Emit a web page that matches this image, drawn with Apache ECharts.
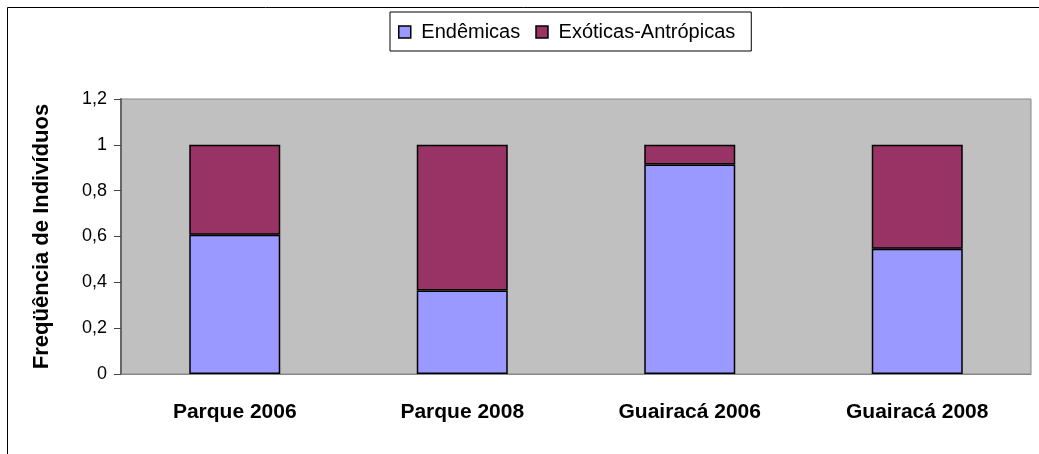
<!DOCTYPE html>
<html>
<head>
<meta charset="utf-8">
<script src="https://cdn.jsdelivr.net/npm/echarts@6/dist/echarts.min.js"></script>
<style>
  html, body { margin: 0; padding: 0; background: #fff; }
  #chart { width: 1039px; height: 454px; }
</style>
</head>
<body>
<div id="chart"></div>
<script>
// data
const categories = ['Parque 2006', 'Parque 2008', 'Guairacá 2006', 'Guairacá 2008'];
const endemicas = [0.608, 0.364, 0.914, 0.547];
const exoticas = [0.392, 0.636, 0.086, 0.453];
const seriesNames = ['Endêmicas', 'Exóticas-Antrópicas'];

const FONT = '"Liberation Sans", Arial, sans-serif';

const chart = echarts.init(document.getElementById('chart'));

function barSeries(name, data, color) {
  return {
    name: name,
    type: 'bar',
    stack: 'total',
    barWidth: 91,
    data: data,
    itemStyle: { color: color, borderColor: '#000', borderWidth: 1.5 },
    emphasis: { disabled: true }
  };
}

const option = {
  animation: false,
  backgroundColor: '#fff',
  graphic: [{
    type: 'rect',
    shape: { x: 7.5, y: 7.5, width: 1200, height: 600 },
    style: { fill: 'none', stroke: '#000', lineWidth: 1 },
    z: 0
  }],
  legend: {
    data: seriesNames,
    top: 12,
    left: 390,
    padding: [10, 16, 9, 8],
    borderColor: '#000',
    borderWidth: 1,
    backgroundColor: '#fff',
    itemWidth: 12,
    itemHeight: 12,
    itemGap: 15,
    icon: 'rect',
    formatter: name => ' ' + name,
    textStyle: { fontFamily: FONT, fontSize: 20, color: '#000' },
    itemStyle: { borderColor: '#000', borderWidth: 1.5 }
  },
  grid: {
    left: 121,
    top: 99,
    right: 8,
    bottom: 80,
    show: true,
    backgroundColor: '#C0C0C0',
    borderColor: '#888',
    borderWidth: 1
  },
  xAxis: {
    type: 'category',
    data: categories,
    axisLine: { lineStyle: { color: '#888', width: 1 } },
    axisTick: { show: false },
    axisLabel: {
      fontFamily: FONT, fontSize: 21, fontWeight: 'bold', color: '#000', margin: 28
    }
  },
  yAxis: {
    type: 'value',
    min: 0,
    max: 1.2,
    interval: 0.2,
    name: 'Freqüência de Indivíduos',
    nameLocation: 'middle',
    nameGap: 68,
    nameTextStyle: { fontFamily: FONT, fontSize: 22, fontWeight: 'bold', color: '#000' },
    axisLine: { show: true, lineStyle: { color: '#666', width: 2 } },
    axisTick: { show: true, length: 7, lineStyle: { color: '#444', width: 1 } },
    splitLine: { show: false },
    axisLabel: {
      fontFamily: FONT, fontSize: 18, color: '#000', margin: 14,
      formatter: v => String(Math.round(v * 10) / 10).replace('.', ',')
    }
  },
  series: [
    barSeries(seriesNames[0], endemicas, '#9999FF'),
    barSeries(seriesNames[1], exoticas, '#993366')
  ]
};

chart.setOption(option);
</script>
</body>
</html>
